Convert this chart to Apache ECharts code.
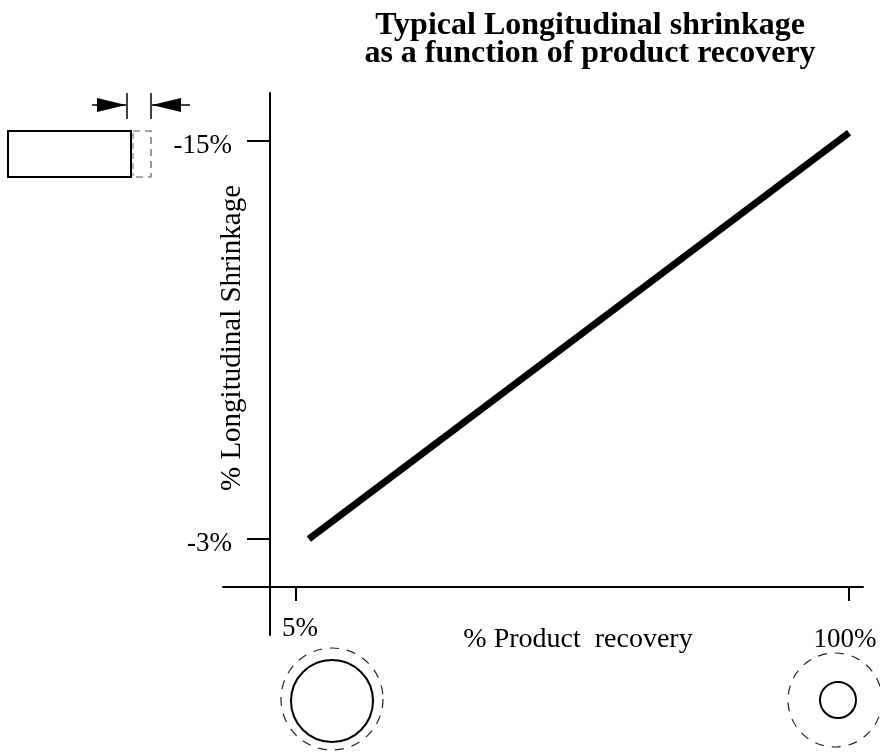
<!DOCTYPE html>
<html>
<head>
<meta charset="utf-8">
<script src="https://cdn.jsdelivr.net/npm/echarts@6/dist/echarts.min.js"></script>
<style>
    html, body { margin: 0; padding: 0; background: #fff; }
    #chart { width: 880px; height: 754px; }
</style>
</head>
<body>
<div id="chart"></div>
<script>
// product recovery (%) -> longitudinal shrinkage (%)
const recovery = [7.2, 100];
const shrinkage = [-3, -15.25];
const xTicks = [5, 100];
const yTicks = [-15, -3];

const serif = '"Liberation Serif", "DejaVu Serif", serif';

let chart = echarts.init(document.getElementById('chart'));

chart.setOption({
    backgroundColor: '#fff',
    animation: false,
    title: {
        text: 'Typical Longitudinal shrinkage\nas a function of product recovery',
        left: 585,
        top: 7,
        textAlign: 'center',
        textStyle: {
            fontFamily: serif,
            fontWeight: 'bold',
            fontSize: 32,
            lineHeight: 28,
            color: '#000'
        }
    },
    grid: {
        left: 223,
        right: 17,
        top: 93,
        bottom: 119,
        outerBoundsMode: 'none'
    },
    xAxis: {
        type: 'value',
        min: -7.54,
        max: 102.4,
        offset: -48,
        name: '% Product  recovery',
        nameLocation: 'middle',
        nameGap: 39,
        nameMoveOverlap: false,
        nameTextStyle: {
            fontFamily: serif,
            fontSize: 28,
            color: '#000',
            padding: [0, 0, 0, 70]
        },
        axisLine: { onZero: false, lineStyle: { color: '#000', width: 2 } },
        axisTick: { customValues: xTicks, length: 14, lineStyle: { color: '#000', width: 2 } },
        axisLabel: {
            customValues: xTicks,
            margin: 22,
            fontFamily: serif,
            fontSize: 27,
            color: '#000',
            formatter: v => v === 100 ? '{far|' + v + '%}' : '{near|' + v + '%}',
            rich: {
                near: { fontFamily: serif, fontSize: 27, color: '#000', padding: [6, 0, 0, 8] },
                far: { fontFamily: serif, fontSize: 27, color: '#000', padding: [17, 8, 0, 0] }
            }
        },
        splitLine: { show: false }
    },
    yAxis: {
        type: 'value',
        inverse: true,
        min: -16.447,
        max: -0.106,
        offset: -47,
        name: '% Longitudinal Shrinkage',
        nameLocation: 'middle',
        nameRotate: 90,
        nameGap: 23,
        nameMoveOverlap: false,
        nameTextStyle: {
            fontFamily: serif,
            fontSize: 29,
            color: '#000',
            padding: [0, 0, 0, 52]
        },
        axisLine: { onZero: false, lineStyle: { color: '#000', width: 2 } },
        axisTick: { customValues: yTicks, length: 23, lineStyle: { color: '#000', width: 2 } },
        axisLabel: {
            customValues: yTicks,
            margin: 38,
            fontFamily: serif,
            fontSize: 27,
            color: '#000',
            verticalAlign: 'top',
            lineHeight: 10,
            formatter: v => v + '%'
        },
        splitLine: { show: false }
    },
    series: [{
        type: 'line',
        symbol: 'none',
        lineStyle: { color: '#000', width: 7, cap: 'butt' },
        data: recovery.map((x, i) => [x, shrinkage[i]])
    }],
    graphic: [
        // board before shrinkage
        { type: 'rect', shape: { x: 8, y: 131, width: 123, height: 46 },
          style: { fill: '#fff', stroke: '#000', lineWidth: 2 } },
        { type: 'polyline', shape: { points: [[133, 131], [151, 131], [151, 177], [133, 177]] },
          style: { fill: null, stroke: '#555', lineWidth: 1.2, lineDash: [7, 5] } },
        { type: 'line', shape: { x1: 133, y1: 133, x2: 133, y2: 176 },
          style: { stroke: '#888', lineWidth: 1.2, lineDash: [6, 4] } },
        // dimension marks
        { type: 'line', shape: { x1: 127, y1: 93, x2: 127, y2: 119 }, style: { stroke: '#000', lineWidth: 1.5 } },
        { type: 'line', shape: { x1: 151, y1: 93, x2: 151, y2: 119 }, style: { stroke: '#000', lineWidth: 1.5 } },
        { type: 'line', shape: { x1: 92, y1: 105, x2: 126, y2: 105 }, style: { stroke: '#000', lineWidth: 1.5 } },
        { type: 'polygon', shape: { points: [[97, 98], [126, 105], [97, 112]] }, style: { fill: '#000' } },
        { type: 'line', shape: { x1: 152, y1: 105, x2: 190, y2: 105 }, style: { stroke: '#000', lineWidth: 1.5 } },
        { type: 'polygon', shape: { points: [[181, 98], [152, 105], [181, 112]] }, style: { fill: '#000' } },
        // cross sections
        { type: 'circle', shape: { cx: 332, cy: 699, r: 51 },
          style: { fill: null, stroke: '#222', lineWidth: 1.2, lineDash: [9, 8] } },
        { type: 'circle', shape: { cx: 332, cy: 701, r: 41 },
          style: { fill: null, stroke: '#000', lineWidth: 2 } },
        { type: 'circle', shape: { cx: 835, cy: 700, r: 47 },
          style: { fill: null, stroke: '#222', lineWidth: 1.2, lineDash: [9, 8] } },
        { type: 'circle', shape: { cx: 838, cy: 700, r: 18 },
          style: { fill: null, stroke: '#000', lineWidth: 2 } }
    ]
});
</script>
</body>
</html>
